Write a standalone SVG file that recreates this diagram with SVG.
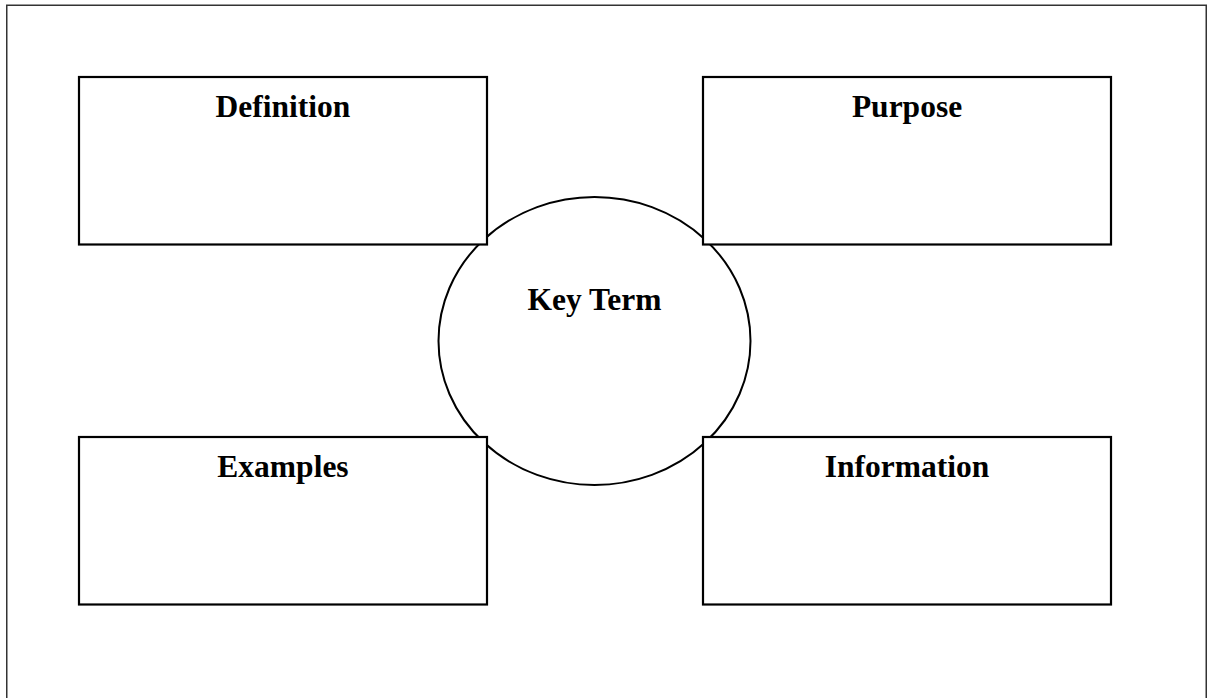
<svg xmlns="http://www.w3.org/2000/svg" width="1209" height="698" viewBox="0 0 1209 698">
  <style>
    .frame { fill: none; stroke: #333; stroke-width: 1.5; }
    .box { fill: #fff; stroke: #000; stroke-width: 2.2; }
    .hub { fill: #fff; stroke: #000; stroke-width: 2; }
    .label { font-family: "Liberation Serif", "Times New Roman", serif; font-weight: bold; font-size: 31.5px; fill: #000; text-anchor: middle; }
  </style>
  <rect x="0" y="0" width="1209" height="698" fill="#fff"/>
  <!-- page border (bottom edge runs past the visible area) -->
  <rect class="frame" x="6.75" y="5.25" width="1199.5" height="720"/>

  <g id="connectors"></g>

  <g id="key-term">
    <ellipse class="hub" cx="594.5" cy="341" rx="156" ry="144"/>
    <text class="label" x="594.5" y="310">Key Term</text>
  </g>

  <g id="definition">
    <rect class="box" x="79" y="77" width="408" height="167.5"/>
    <text class="label" x="283" y="117">Definition</text>
  </g>

  <g id="purpose">
    <rect class="box" x="703" y="77" width="408" height="167.5"/>
    <text class="label" x="907" y="117">Purpose</text>
  </g>

  <g id="examples">
    <rect class="box" x="79" y="437" width="408" height="167.5"/>
    <text class="label" x="283" y="477">Examples</text>
  </g>

  <g id="information">
    <rect class="box" x="703" y="437" width="408" height="167.5"/>
    <text class="label" x="907" y="477">Information</text>
  </g>
</svg>
